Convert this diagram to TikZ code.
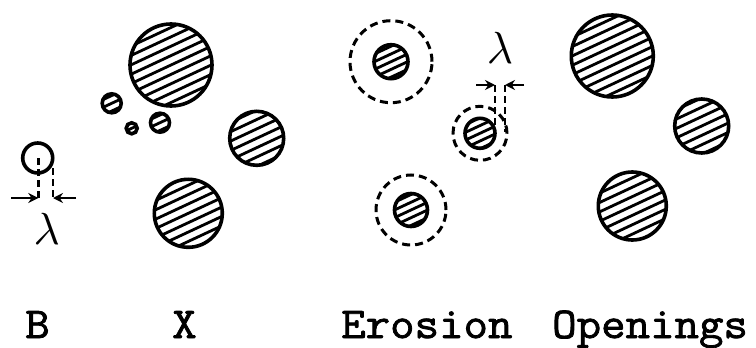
\documentclass[tikz,border=0pt]{standalone}
\usepackage{fontspec}
\newfontfamily\lblfont[FakeBold=1.8,FakeStretch=1.08]{Latin Modern Mono}
\usetikzlibrary{arrows.meta}
\newcommand\hdisk[4][8]{%
  \begin{scope}[shift={(#2,#3)}]
    \begin{scope}
      \clip (0,0) circle (#4pt);
      \foreach \k in {-8,...,8}
        \draw[hatch, rotate=25] (-#4-4,\k*#1) -- (#4+4,\k*#1);
    \end{scope}
    \draw[outline] (0,0) circle (#4pt);
  \end{scope}}
\tikzset{
  outline/.style={line width=3.6pt},
  hatch/.style={line width=2.8pt},
  dashcirc/.style={line width=3pt, dash pattern=on 8pt off 5pt},
  dashline/.style={line width=2.6pt, dash pattern=on 7pt off 4pt},
  arr/.style={line width=2.6pt, -{Stealth[length=10pt,width=10pt]}},
  lbl/.style={font=\lblfont\fontsize{44}{48}\selectfont, anchor=base west, inner sep=0pt},
  lam/.style={scale=4.5, inner sep=0pt}
}
\begin{document}
\begin{tikzpicture}[x=1pt,y=-1pt]
\useasboundingbox (0,0) rectangle (756,348);
% --- B ---
\draw[outline] (37.7,158) circle (15pt);
\coordinate (bc) at (38.3,158);
\coordinate (bcb) at (38.3,198);
\coordinate (br) at (53,168);
\coordinate (brb) at (53,198);
\draw[dashline] (bc) -- (bcb);
\draw[dashline] (br) -- (brb);
\coordinate (bl0) at (11,198);
\coordinate (br0) at (76,198);
\draw[arr] (bl0) -- (bcb);
\draw[arr] (br0) -- (brb);
\node[lam] (lamB) at (46.7,229) {$\lambda$};
% --- X ---
\hdisk[8.5]{171}{65}{41}
\hdisk[7]{111.7}{103.3}{9.5}
\hdisk[6]{131.7}{128.3}{5.5}
\hdisk[7]{160}{122.7}{9.5}
\hdisk[8.5]{256.7}{138.3}{27}
\hdisk[8.5]{188.3}{213.3}{34}
% --- Erosion ---
\draw[dashcirc] (391,61.7) circle (41pt);
\hdisk[7]{391}{61.7}{17}
\draw[dashcirc] (480,133.3) circle (27pt);
\hdisk[7]{480}{133.3}{15}
\draw[dashcirc] (411,210) circle (35pt);
\hdisk[7]{411}{210}{16.5}
\coordinate (ec) at (495,85);
\coordinate (ecb) at (495,128);
\coordinate (er) at (505,85);
\coordinate (erb) at (505,132);
\draw[dashline] (ec) -- (ecb);
\draw[dashline] (er) -- (erb);
\coordinate (el0) at (476,85);
\coordinate (er0) at (524,85);
\draw[arr] (el0) -- (ec);
\draw[arr] (er0) -- (er);
\node[lam] (lamE) at (500,47.5) {$\lambda$};
% --- Openings ---
\hdisk[8.5]{612.3}{56}{41}
\hdisk[8.5]{701.7}{126}{27}
\hdisk[8.5]{632.3}{206}{34}
% --- labels ---
\node[lbl] (tB) at (25,338) {B};
\node[lbl] (tX) at (172,338) {X};
\node[lbl] (tE) at (341,338) {Erosion};
\node[lbl] (tO) at (552,338) {Openings};
\end{tikzpicture}
\end{document}
